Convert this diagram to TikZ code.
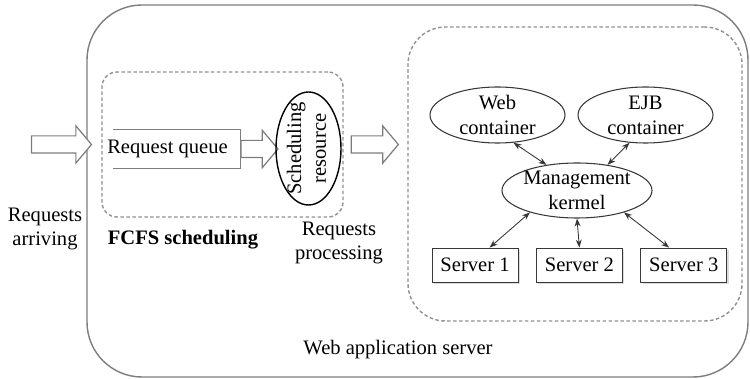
\documentclass[tikz,border=0pt]{standalone}
\usepackage{fontspec}
\setmainfont{Liberation Serif}
\usetikzlibrary{arrows.meta, positioning, calc, shapes.geometric, shapes.arrows, shadows}
\definecolor{FrameGray}{RGB}{125,125,125}
\definecolor{DashGray}{RGB}{145,145,145}
\definecolor{LinkGray}{RGB}{55,55,55}

\begin{document}
\begin{tikzpicture}[
    x=0.2mm, y=-0.2mm,
    font=\fontsize{11.7}{14.2}\selectfont,
    outerbox/.style={draw=FrameGray, line width=0.8pt, rounded corners=11mm, minimum width=132.2mm, minimum height=74.4mm},
    dashbox/.style={draw=DashGray, dashed, dash pattern=on 2pt off 1.4pt, line width=0.8pt},
    blockarrow/.style={single arrow, draw=FrameGray, fill=white, line width=0.7pt, inner xsep=0pt, inner ysep=1.6mm, single arrow head extend=2mm, single arrow tip angle=100},
    oval/.style={ellipse, draw=LinkGray, line width=0.6pt, align=center, inner sep=-2pt},
    server/.style={draw=LinkGray, fill=white, line width=0.5pt, minimum width=17.2mm, minimum height=6.8mm, drop shadow={shadow xshift=0.4mm, shadow yshift=-0.4mm, fill=gray!55}},
    link/.style={{Stealth[length=1.6mm, width=1.2mm]}-{Stealth[length=1.6mm, width=1.2mm]}, LinkGray, line width=0.5pt}
]

\useasboundingbox (0,0) rectangle (750,379);

% Frames
\node[outerbox] (was) at (417.5,191) {};
\node[dashbox, rounded corners=3mm, minimum width=48.2mm, minimum height=29mm] (fcfs) at (222.5,144.5) {};
\node[dashbox, rounded corners=7.5mm, minimum width=66.8mm, minimum height=58.8mm] (proc) at (575,174) {};

% Request queue and scheduling
\node[minimum width=25.4mm, minimum height=7.6mm, inner sep=0pt] (queue) at (176.5,149) {\hspace*{-3.6mm}Request queue};
\draw[FrameGray, line width=0.8pt] (queue.north west) -- (queue.north east) -- (queue.south east) -- (queue.south west);
\node[blockarrow, minimum height=7.4mm, right=0mm of queue] (arrq) {};
\node[ellipse, draw, line width=0.8pt, inner sep=-4pt, minimum width=13mm, minimum height=22.6mm] (sched) at (308.5,148.5)
    {\rotatebox{90}{\begin{tabular}{@{}c@{}}Scheduling\\resource\end{tabular}}};

% Block arrows in and out
\node[blockarrow, minimum height=12mm, left=1.8mm of fcfs] (arrin) {};
\node[blockarrow, minimum height=9.4mm, right=1.4mm of fcfs] (arrout) {};

% Containers
\node[oval, minimum width=27mm, minimum height=11.2mm] (web) at (497.5,115) {Web\\container};
\node[oval, minimum width=27mm, minimum height=11.2mm] (ejb) at (645.5,115) {EJB\\container};
\node[oval, minimum width=30mm, minimum height=11mm] (mgmt) at (577,190.5) {Management\\kermel};

% Servers
\node[server] (s1) at (475,265) {Server 1};
\node[server, right=3.5mm of s1] (s2) {Server 2};
\node[server, right=3.5mm of s2] (s3) {Server 3};

% Links
\draw[link] (web.-60) -- (mgmt.140);
\draw[link] (ejb.240) -- (mgmt.40);
\draw[link] (mgmt.205) -- (s1.50);
\draw[link] (mgmt.south) -- (s2.north);
\draw[link] (mgmt.335) -- (s3.130);

% Labels
\node[align=center] (arrlbl) at (45,229) {Requests\\arriving};
\node (fcfslbl) at ($(fcfs.south)+(-39.5,22)$) {\textbf{FCFS scheduling}};
\node[align=center] (proclbl) at (339,243) {Requests\\processing};
\node (waslbl) at (398,350) {Web application server};

\end{tikzpicture}
\end{document}
